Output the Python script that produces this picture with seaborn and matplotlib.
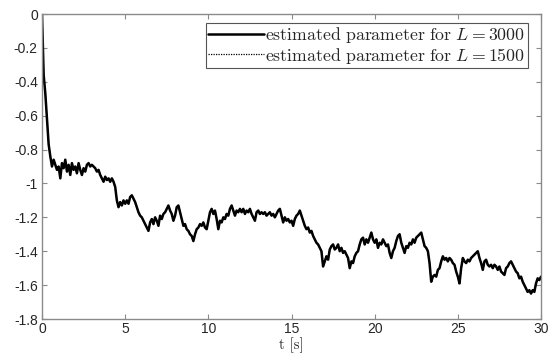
import numpy as np
import pandas as pd
import matplotlib
matplotlib.use("Agg")
import matplotlib.pyplot as plt
import seaborn as sns

# Parameter estimate sampled every 0.1 s (one row per second)
estimate_3000 = [
    0.00, -0.36, -0.47, -0.62, -0.77, -0.84, -0.90, -0.86, -0.89, -0.92,
    -0.90, -0.97, -0.88, -0.91, -0.86, -0.93, -0.89, -0.95, -0.88, -0.92,
    -0.90, -0.94, -0.88, -0.92, -0.95, -0.91, -0.93, -0.89, -0.88, -0.90,
    -0.89, -0.90, -0.91, -0.93, -0.92, -0.95, -0.97, -0.99, -0.96, -0.98,
    -0.97, -0.99, -0.97, -0.99, -1.02, -1.10, -1.14, -1.11, -1.13, -1.10,
    -1.12, -1.10, -1.12, -1.08, -1.07, -1.09, -1.11, -1.14, -1.17, -1.19,
    -1.20, -1.22, -1.24, -1.26, -1.28, -1.23, -1.21, -1.24, -1.20, -1.22,
    -1.25, -1.19, -1.21, -1.18, -1.17, -1.15, -1.13, -1.16, -1.18, -1.22,
    -1.19, -1.14, -1.13, -1.17, -1.21, -1.25, -1.24, -1.27, -1.28, -1.30,
    -1.31, -1.34, -1.30, -1.27, -1.26, -1.24, -1.25, -1.23, -1.26, -1.27,
    -1.22, -1.17, -1.15, -1.18, -1.16, -1.21, -1.27, -1.22, -1.23, -1.20,
    -1.21, -1.18, -1.19, -1.15, -1.13, -1.16, -1.19, -1.16, -1.17, -1.15,
    -1.17, -1.15, -1.18, -1.16, -1.17, -1.15, -1.18, -1.20, -1.22, -1.17,
    -1.16, -1.18, -1.17, -1.18, -1.17, -1.19, -1.18, -1.17, -1.19, -1.18,
    -1.20, -1.18, -1.16, -1.15, -1.19, -1.23, -1.20, -1.22, -1.21, -1.23,
    -1.22, -1.25, -1.21, -1.19, -1.18, -1.16, -1.19, -1.22, -1.25, -1.27,
    -1.26, -1.29, -1.28, -1.31, -1.33, -1.35, -1.36, -1.38, -1.40, -1.49,
    -1.46, -1.43, -1.45, -1.39, -1.37, -1.36, -1.39, -1.38, -1.36, -1.40,
    -1.38, -1.41, -1.40, -1.42, -1.44, -1.50, -1.46, -1.47, -1.43, -1.41,
    -1.40, -1.36, -1.33, -1.32, -1.36, -1.33, -1.35, -1.32, -1.29, -1.33,
    -1.35, -1.33, -1.38, -1.35, -1.36, -1.33, -1.35, -1.37, -1.36, -1.41,
    -1.44, -1.40, -1.38, -1.34, -1.31, -1.30, -1.35, -1.38, -1.41, -1.37,
    -1.38, -1.35, -1.36, -1.33, -1.35, -1.32, -1.31, -1.30, -1.29, -1.33,
    -1.37, -1.38, -1.40, -1.47, -1.58, -1.55, -1.54, -1.55, -1.51, -1.50,
    -1.46, -1.43, -1.45, -1.44, -1.46, -1.44, -1.45, -1.47, -1.48, -1.52,
    -1.55, -1.59, -1.50, -1.44, -1.46, -1.47, -1.45, -1.46, -1.44, -1.43,
    -1.42, -1.41, -1.40, -1.44, -1.47, -1.51, -1.46, -1.45, -1.48, -1.49,
    -1.48, -1.50, -1.48, -1.49, -1.51, -1.49, -1.52, -1.53, -1.54, -1.50,
    -1.49, -1.47, -1.46, -1.48, -1.50, -1.52, -1.53, -1.56, -1.55, -1.58,
    -1.60, -1.62, -1.64, -1.63, -1.65, -1.63, -1.64, -1.59, -1.56, -1.57,
    -1.55,
]
# The shorter window gives an estimate that coincides with the longer one
estimate_1500 = list(estimate_3000)

time_s = np.round(np.arange(len(estimate_3000)) * 0.1, 1)

x_ticks = [0, 5, 10, 15, 20, 25, 30]
y_ticks = [0, -0.2, -0.4, -0.6, -0.8, -1, -1.2, -1.4, -1.6, -1.8]
y_tick_labels = ["0", "-0.2", "-0.4", "-0.6", "-0.8", "-1", "-1.2", "-1.4", "-1.6", "-1.8"]

sns.set_theme(style="white")
plt.rcParams["font.family"] = ["Liberation Sans", "DejaVu Sans"]
plt.rcParams["mathtext.fontset"] = "cm"
plt.rcParams["axes.unicode_minus"] = False

df = pd.DataFrame({"t": time_s, "L3000": estimate_3000, "L1500": estimate_1500})

fig = plt.figure(figsize=(5.49, 3.55), dpi=100)
ax = fig.add_axes([42 / 549, 1 - 319 / 355, 499 / 549, 305 / 355])

sns.lineplot(data=df, x="t", y="L3000", ax=ax, color="black", linewidth=1.8,
             label=r"$\mathrm{estimated\ parameter\ for}\ L = 3000$")
sns.lineplot(data=df, x="t", y="L1500", ax=ax, color="black", linewidth=0.9,
             linestyle=(0, (1, 1)),
             label=r"$\mathrm{estimated\ parameter\ for}\ L = 1500$")

ax.set_xlim(0, 30)
ax.set_ylim(-1.8, 0)
ax.set_xticks(x_ticks)
ax.set_xticklabels([str(v) for v in x_ticks])
ax.set_yticks(y_ticks)
ax.set_yticklabels(y_tick_labels)
ax.set_xlabel("t [s]", fontsize=10.5, fontfamily="cmr10", labelpad=0.5, color="#262626")
ax.set_ylabel("")

for side in ["left", "bottom", "top", "right"]:
    ax.spines[side].set_visible(True)
    ax.spines[side].set_color("#8a8a8a")
    ax.spines[side].set_linewidth(1.0)

ax.tick_params(axis="both", which="both", direction="in", length=3.5, width=0.8,
               color="#8a8a8a", labelsize=10, labelcolor="#262626",
               top=True, right=True, bottom=True, left=True, pad=3)
ax.tick_params(axis="x", pad=2.5)

leg = ax.legend(loc="upper right", bbox_to_anchor=(0.974, 0.972), borderaxespad=0,
                fontsize=12.8, frameon=True, fancybox=False, framealpha=1,
                edgecolor="#555555", handlelength=3.1, handletextpad=0.1,
                borderpad=0.15, labelspacing=0.02)
leg.get_frame().set_linewidth(0.8)

fig.savefig("out.png", dpi=100)
